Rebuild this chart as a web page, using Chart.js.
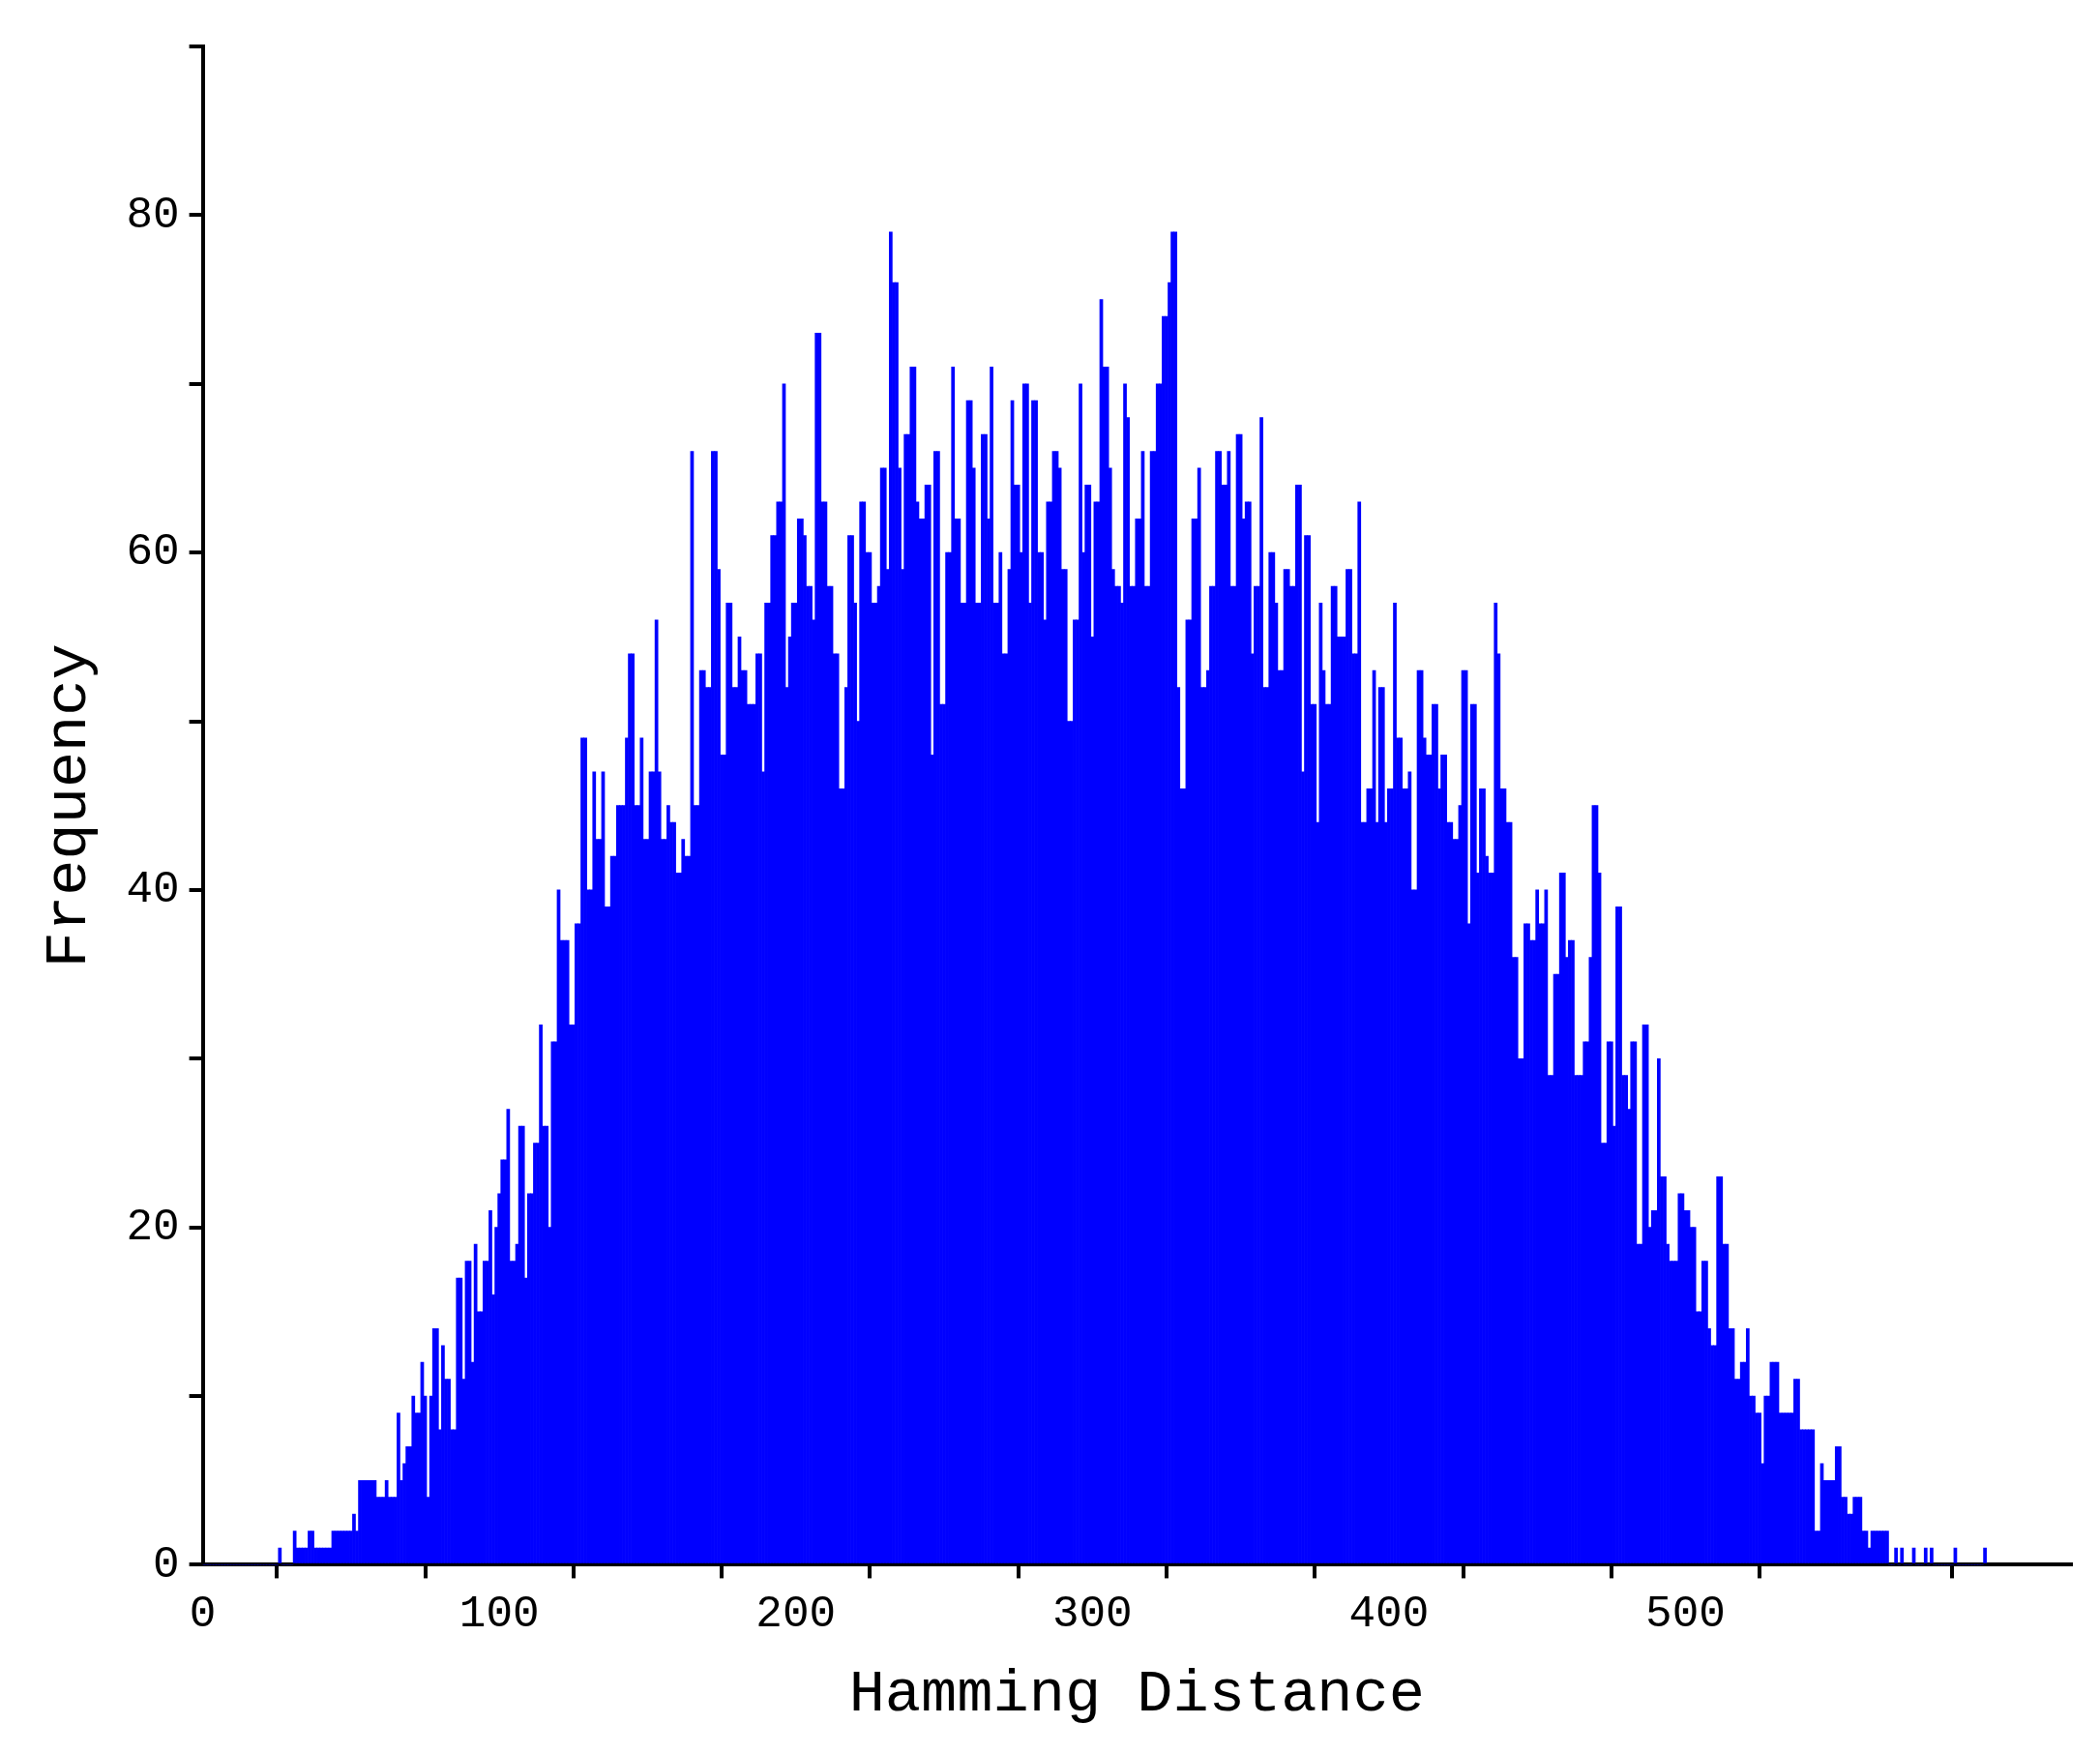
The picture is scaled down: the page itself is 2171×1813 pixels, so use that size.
<!DOCTYPE html>
<html><head><meta charset="utf-8">
<script src="https://cdn.jsdelivr.net/npm/chart.js@4/dist/chart.umd.min.js"></script>
<style>html,body{margin:0;padding:0;background:#fff}</style>
</head><body>
<canvas id="c" width="2171" height="1813"></canvas>
<script>
// Hamming distance bins 0..601
const distances = [];
const frequency = [
0,0,0,0,0,0,0,0,0,0, 0,0,0,0,0,0,0,0,0,0, 0,0,0,0,0,0,1,0,0,0,
0,2,1,1,1,1,2,2,1,1, 1,1,1,1,2,2,2,2,2,2, 2,3,2,5,5,5,5,5,5,4,
4,4,5,4,4,4,9,5,6,7, 7,10,9,9,12,10,4,10,14,14, 8,13,11,11,8,8,17,17,11,18,
18,12,19,15,15,18,18,21,16,20, 22,24,24,27,18,18,19,26,26,17, 22,22,25,25,32,26,26,20,31,31,
40,37,37,37,32,32,38,38,49,49, 40,40,47,43,43,47,39,39,42,42, 45,45,45,49,54,54,45,45,49,43,
43,47,47,56,47,43,43,45,44,44, 41,41,43,42,42,66,45,45,53,53, 52,52,66,66,59,48,48,57,57,52,
52,55,53,53,51,51,51,54,54,47, 57,57,61,61,63,63,70,52,55,57, 57,62,62,61,58,58,56,73,73,63,
63,58,58,54,54,46,46,52,61,61, 57,50,63,63,60,60,57,57,58,65, 65,59,79,76,76,65,59,67,67,71,
71,63,62,62,64,64,48,66,66,51, 51,60,60,71,62,62,57,57,69,69, 65,57,57,67,67,62,71,57,57,60,
54,54,59,69,64,64,60,70,70,57, 69,69,60,60,56,63,63,66,66,65, 59,59,50,50,56,56,70,60,64,64,
55,63,63,75,71,71,65,59,58,58, 57,70,68,58,58,62,62,66,58,58, 66,66,70,70,74,74,76,79,79,52,
46,46,56,56,62,62,65,52,52,53, 58,58,66,66,64,64,66,58,58,67, 67,62,63,63,54,58,58,68,52,52,
60,60,57,53,53,59,59,58,58,64, 64,47,61,61,51,51,44,57,53,51, 51,58,58,55,55,55,59,59,54,54,
63,44,44,46,46,53,44,52,52,44, 46,46,57,49,49,46,46,47,40,40, 53,53,49,48,48,51,51,46,48,48,
44,44,43,43,45,53,53,38,51,51, 41,46,46,42,41,41,57,54,46,46, 44,44,36,36,30,30,38,38,37,37,
40,38,38,40,29,29,35,35,41,41, 36,37,37,29,29,29,31,31,36,45, 45,41,25,25,31,31,26,39,39,29,
29,27,31,31,19,19,32,32,20,21, 21,30,23,23,19,18,18,18,22,22, 21,21,20,20,15,15,18,18,14,13,
13,23,23,19,19,14,14,11,11,12, 12,14,10,10,9,9,6,10,10,12, 12,12,9,9,9,9,9,11,11,8,
8,8,8,8,2,2,6,5,5,5, 5,7,7,4,4,3,3,4,4,4, 2,2,1,2,2,2,2,2,2,0,
0,1,0,1,0,0,0,1,0,0, 0,1,0,1,0,0,0,0,0,0, 0,1,0,0,0,0,0,0,0,0, 0,1
];
for (let i = 0; i < frequency.length; i++) distances.push(i);
const xTickLabels = [0,100,200,300,400,500,600];
const yTickLabels = [0,20,40,60,80];

const points = distances.map((d,i)=>({x:d,y:frequency[i]}));
const font = "'Liberation Mono', 'DejaVu Sans Mono', monospace";
new Chart(document.getElementById('c'), {
  type:'bar',
  data:{datasets:[{data:points, backgroundColor:'#0000ff', borderWidth:0, barPercentage:1, categoryPercentage:1, grouped:false}]},
  options:{
    responsive:false, animation:false, devicePixelRatio:1,
    layout:{padding:{left:30,right:30,top:48,bottom:20}},
    plugins:{legend:{display:false}, tooltip:{enabled:false}},
    scales:{
      x:{type:'linear', min:0, max:630, offset:false,
        border:{color:'#000', width:4},
        grid:{display:true, drawOnChartArea:false, color:'#000', lineWidth:4, tickLength:14},
        ticks:{stepSize:50, color:'#000', font:{family:font, size:46}, padding:10, maxRotation:0,
          callback:v=> xTickLabels.includes(v) ? String(v) : ''},
        title:{display:true, text:'Hamming Distance', color:'#000', font:{family:font, size:62}, padding:{top:8}}
      },
      y:{min:0, max:90,
        border:{color:'#000', width:4},
        grid:{display:true, drawOnChartArea:false, color:'#000', lineWidth:4, tickLength:14},
        ticks:{stepSize:10, color:'#000', font:{family:font, size:46}, padding:10,
          callback:v=> yTickLabels.includes(v) ? String(v) : ''},
        title:{display:true, text:'Frequency', color:'#000', font:{family:font, size:62}, padding:{bottom:12}}
      }
    }
  }
});
</script>
</body></html>
